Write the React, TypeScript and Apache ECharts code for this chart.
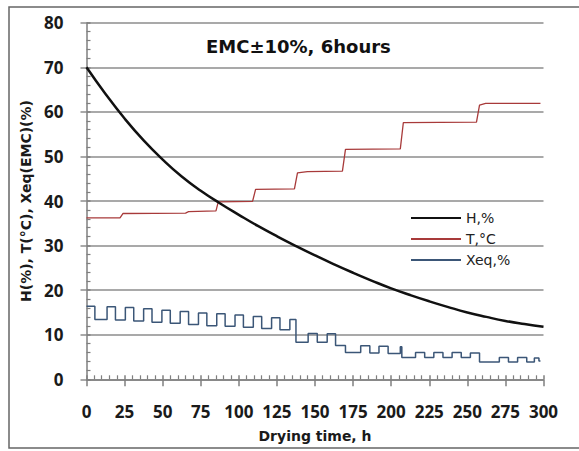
import { useEffect, useRef } from 'react';
import * as echarts from 'echarts';

// H (%) curve
const hTime = [0, 12.5, 25, 37.5, 50, 62.5, 75, 87.5, 100, 112.5, 125, 137.5, 150, 162.5, 175, 187.5, 200, 212.5, 225, 237.5, 250, 262.5, 275, 287.5, 300];
const hValue = [70, 64.0, 58.5, 53.6, 49.3, 45.5, 42.3, 39.5, 36.9, 34.4, 32.1, 29.9, 27.8, 25.8, 23.9, 22.1, 20.4, 18.9, 17.5, 16.2, 15.0, 14.0, 13.1, 12.4, 11.8];

// T (°C) step-like curve
const tTime = [0, 22, 24, 65, 67, 85, 86.5, 109, 111, 136.5, 138.5, 145, 168, 170, 206, 208, 256, 258, 262, 298];
const tValue = [36.2, 36.2, 37.2, 37.3, 37.6, 37.8, 39.8, 39.9, 42.6, 42.7, 46.3, 46.6, 46.7, 51.6, 51.7, 57.6, 57.7, 61.5, 61.9, 61.9];

// Xeq (%) change points (value holds until next time)
const xeqTime = [0, 5.5, 13.5, 19, 25.5, 31, 37.5, 43, 49.5, 55, 61.5, 67, 73.5, 79, 85.5, 91, 97.5, 103, 109.5, 115, 121.5, 127, 133.5, 137.5, 145.5, 151.5, 158, 163.5, 170, 180, 186, 192, 198, 206, 207, 216, 222, 228, 234, 240, 246, 252, 258, 271, 277, 283, 289, 294, 297, 298];
const xeqValue = [16.4, 13.4, 16.3, 13.3, 16.1, 13.1, 15.8, 12.8, 15.5, 12.6, 15.2, 12.3, 14.9, 12.0, 14.7, 11.9, 14.4, 11.7, 14.1, 11.4, 13.8, 11.1, 13.4, 8.3, 10.3, 8.3, 10.2, 7.6, 6.0, 7.5, 5.9, 7.4, 5.8, 7.3, 4.9, 6.0, 4.9, 6.0, 4.9, 6.0, 4.9, 5.9, 3.9, 4.9, 3.9, 4.9, 3.9, 4.8, 4.1, 4.1];

const seriesNames = ['H,%', 'T,°C', 'Xeq,%'];
const xTicks = { min: 0, max: 300, interval: 25 };
const yTicks = { min: 0, max: 80, interval: 10 };

const zip = (a: number[], b: number[]) => a.map((v, i) => [v, b[i]]);

export default function App() {
  const ref = useRef<HTMLDivElement>(null);
  useEffect(() => {
    const chart = echarts.init(ref.current!, null, { renderer: 'svg' });
    const axisGray = '#7f7f7f';
    const tickFont = { fontFamily: 'Open Sans', fontWeight: 'bold' as const, fontSize: 17, color: '#1a1a1a' };
    const minor = { show: true, splitNumber: 5, length: 4, lineStyle: { color: axisGray, width: 1.2 } };
    chart.setOption({
      animation: false,
      backgroundColor: '#fff',
      title: {
        text: 'EMC±10%, 6hours',
        left: 201,
        top: 32,
        textStyle: { fontFamily: 'DejaVu Sans', fontWeight: 'bold', fontSize: 18, color: '#111' },
      },
      legend: {
        data: seriesNames,
        orient: 'vertical',
        left: 405,
        top: 206,
        itemWidth: 50,
        itemHeight: 10,
        itemGap: 7,
        itemStyle: { opacity: 0, borderWidth: 0 },
        textStyle: { fontFamily: 'DejaVu Sans', fontSize: 14, color: '#222' },
      },
      grid: { left: 86.5, right: 35.5, top: 22.7, bottom: 71.7 },
      xAxis: [
        {
          type: 'value', ...xTicks,
          axisLine: { show: true, lineStyle: { color: axisGray, width: 1.5 } },
          axisTick: { show: true, inside: true, length: 4, lineStyle: { color: axisGray, width: 1.5 } },
          minorTick: minor,
          axisLabel: { ...tickFont, margin: 24 },
          splitLine: { show: false },
          name: 'Drying time, h',
          nameLocation: 'middle',
          nameGap: 50,
          nameTextStyle: { fontFamily: 'DejaVu Sans', fontWeight: 'bold', fontSize: 14, color: '#1a1a1a' },
        },
        {
          type: 'value', ...xTicks, position: 'bottom',
          axisLine: { show: false },
          axisTick: { show: true, length: 7, lineStyle: { color: axisGray, width: 1.5 } },
          axisLabel: { show: false },
          splitLine: { show: false },
        },
      ],
      yAxis: [
        {
          type: 'value', ...yTicks,
          axisLine: { show: true, lineStyle: { color: axisGray, width: 1.5 } },
          axisTick: { show: true, inside: true, length: 4, lineStyle: { color: axisGray, width: 1.5 } },
          minorTick: minor,
          axisLabel: { ...tickFont, margin: 23 },
          splitLine: { show: true, lineStyle: { color: '#8c8c8c', width: 1.5 } },
          name: 'H(%), T(°C), Xeq(EMC)(%)',
          nameLocation: 'middle',
          nameGap: 54,
          nameTextStyle: { fontFamily: 'DejaVu Sans', fontWeight: 'bold', fontSize: 14, color: '#1a1a1a' },
        },
        {
          type: 'value', ...yTicks, position: 'left',
          axisLine: { show: false },
          axisTick: { show: true, length: 6, lineStyle: { color: '#8c8c8c', width: 1.5 } },
          axisLabel: { show: false },
          splitLine: { show: false },
        },
      ],
      graphic: [
        {
          type: 'rect',
          shape: { x: 9, y: 7, width: 600, height: 441 },
          style: { fill: 'none', stroke: '#666', lineWidth: 1.5 },
          silent: true,
        },
      ],
      series: [
        {
          name: 'T,°C', type: 'line', data: zip(tTime, tValue), symbol: 'none',
          lineStyle: { color: '#a83a3a', width: 1.3 }, itemStyle: { color: '#a83a3a' },
        },
        {
          name: 'Xeq,%', type: 'line', step: 'end', data: zip(xeqTime, xeqValue), symbol: 'none',
          lineStyle: { color: '#3b5677', width: 1.5 }, itemStyle: { color: '#3b5677' },
        },
        {
          name: 'H,%', type: 'line', smooth: true, data: zip(hTime, hValue), symbol: 'none',
          lineStyle: { color: '#111', width: 2.5 }, itemStyle: { color: '#111' },
        },
        {
          name: 'outer-ticks', type: 'line', data: [], xAxisIndex: 1, yAxisIndex: 1, symbol: 'none', silent: true,
        },
      ],
    });
    return () => chart.dispose();
  }, []);
  return (
    <div
      ref={ref}
      style={{ position: 'absolute', left: 0, top: 0, width: 579, height: 451, background: '#fff' }}
    />
  );
}
